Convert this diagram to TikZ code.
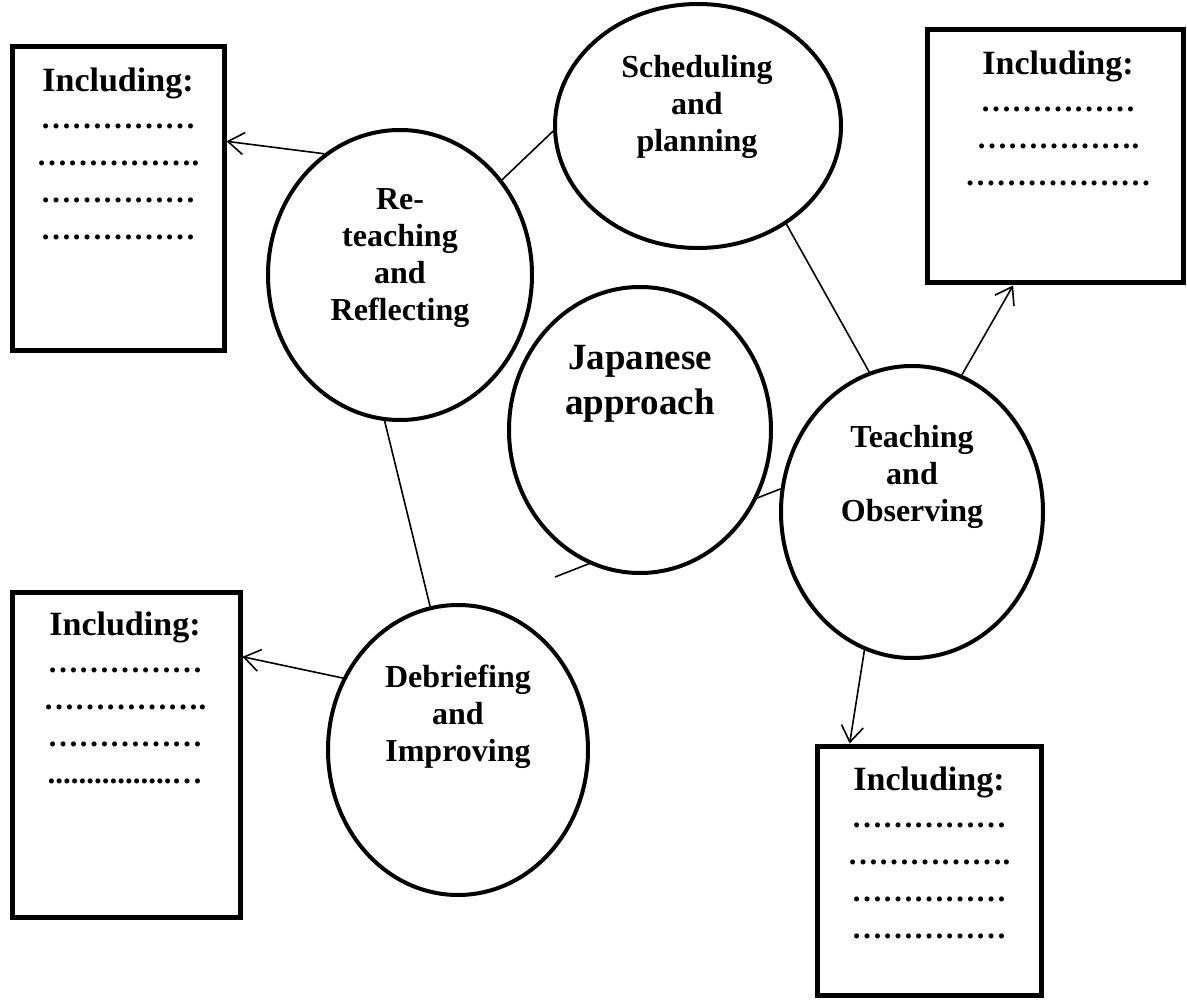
\documentclass[tikz,border=0pt]{standalone}
\usepackage{fontspec}
\setmainfont{Liberation Serif}
\usetikzlibrary{shapes.geometric,arrows.meta}
\begin{document}
\begin{tikzpicture}[x=1pt,y=1pt,
  oval/.style={draw, ellipse, line width=4pt, inner sep=0pt, fill=white},
  infobox/.style={draw, rectangle, line width=5pt, inner sep=0pt, fill=white},
  lbl/.style={anchor=base, inner sep=0pt, font=\bfseries\fontsize{32}{37}\selectfont},
  biglbl/.style={anchor=base, inner sep=0pt, font=\bfseries\fontsize{37}{45}\selectfont},
  boxtxt/.style={anchor=base, inner sep=0pt, font=\bfseries\fontsize{31}{37}\selectfont},
  conn/.style={line width=1.6pt},
  arr/.style={conn, -{Straight Barb[length=16pt,width=22pt]}}
]
\useasboundingbox (0,0) rectangle (1187,-1000);
% boxes
\node[infobox, minimum width=212pt, minimum height=304pt] (tl) at (118,-199) {};
\node[infobox, minimum width=256pt, minimum height=253pt] (tr) at (1055,-156.5) {};
\node[infobox, minimum width=228pt, minimum height=325pt] (bl) at (126,-754.5) {};
\node[infobox, minimum width=224pt, minimum height=249pt] (br) at (929,-870.5) {};
% ellipses
\node[oval, minimum width=286pt, minimum height=244pt] (sch) at (698,-126) {};
\node[oval, minimum width=264pt, minimum height=290pt] (re) at (400,-275) {};
\node[oval, minimum width=262pt, minimum height=292pt] (tea) at (912,-512) {};
\node[oval, minimum width=260pt, minimum height=290pt] (deb) at (458,-750) {};
% connectors
\draw[conn] (re.43) -- (sch.182);
\draw[conn] (sch.312) -- (tea.107);
\draw[conn] (re.264) -- (deb.101);
\coordinate (jend) at (555,-577);
\draw[conn] (tea.170) -- (jend);
\draw[arr] (re.122) -- (tl.28);
\draw[arr] (deb.148) -- (bl.40);
\draw[arr] (tea.70) -- (tr.252);
\draw[arr] (tea.251) -- (br.122);
\node[oval, minimum width=262pt, minimum height=286pt] (jap) at (640,-430) {};
% ellipse labels
\node[lbl] (schtxt) at (697,-78) {\begin{tabular}[t]{@{}c@{}}Scheduling\\and\\planning\end{tabular}};
\node[lbl] (retxt) at (400,-210) {\begin{tabular}[t]{@{}c@{}}Re-\\teaching\\and\\Reflecting\end{tabular}};
\node[biglbl] (japtxt) at (640,-370) {\begin{tabular}[t]{@{}c@{}}Japanese\\approach\end{tabular}};
\node[lbl] (teatxt) at (912,-447) {\begin{tabular}[t]{@{}c@{}}Teaching\\and\\Observing\end{tabular}};
\node[lbl] (debtxt) at (458,-687) {\begin{tabular}[t]{@{}c@{}}Debriefing\\and\\Improving\end{tabular}};
% box texts
\node[boxtxt] (tltxt) at (118,-92) {\begin{tabular}[t]{@{}c@{}}{\fontsize{34}{37}\selectfont Including:}\\……………\\…………….\\……………\\……………\end{tabular}};
\node[boxtxt] (trtxt) at (1058,-75) {\begin{tabular}[t]{@{}c@{}}{\fontsize{34}{37}\selectfont Including:}\\……………\\…………….\\………………\end{tabular}};
\node[boxtxt] (bltxt) at (125,-635) {\begin{tabular}[t]{@{}c@{}}{\fontsize{34}{37}\selectfont Including:}\\……………\\…………….\\……………\\................…\end{tabular}};
\node[boxtxt] (brtxt) at (929,-790) {\begin{tabular}[t]{@{}c@{}}{\fontsize{34}{37}\selectfont Including:}\\……………\\…………….\\……………\\……………\end{tabular}};
\end{tikzpicture}
\end{document}
